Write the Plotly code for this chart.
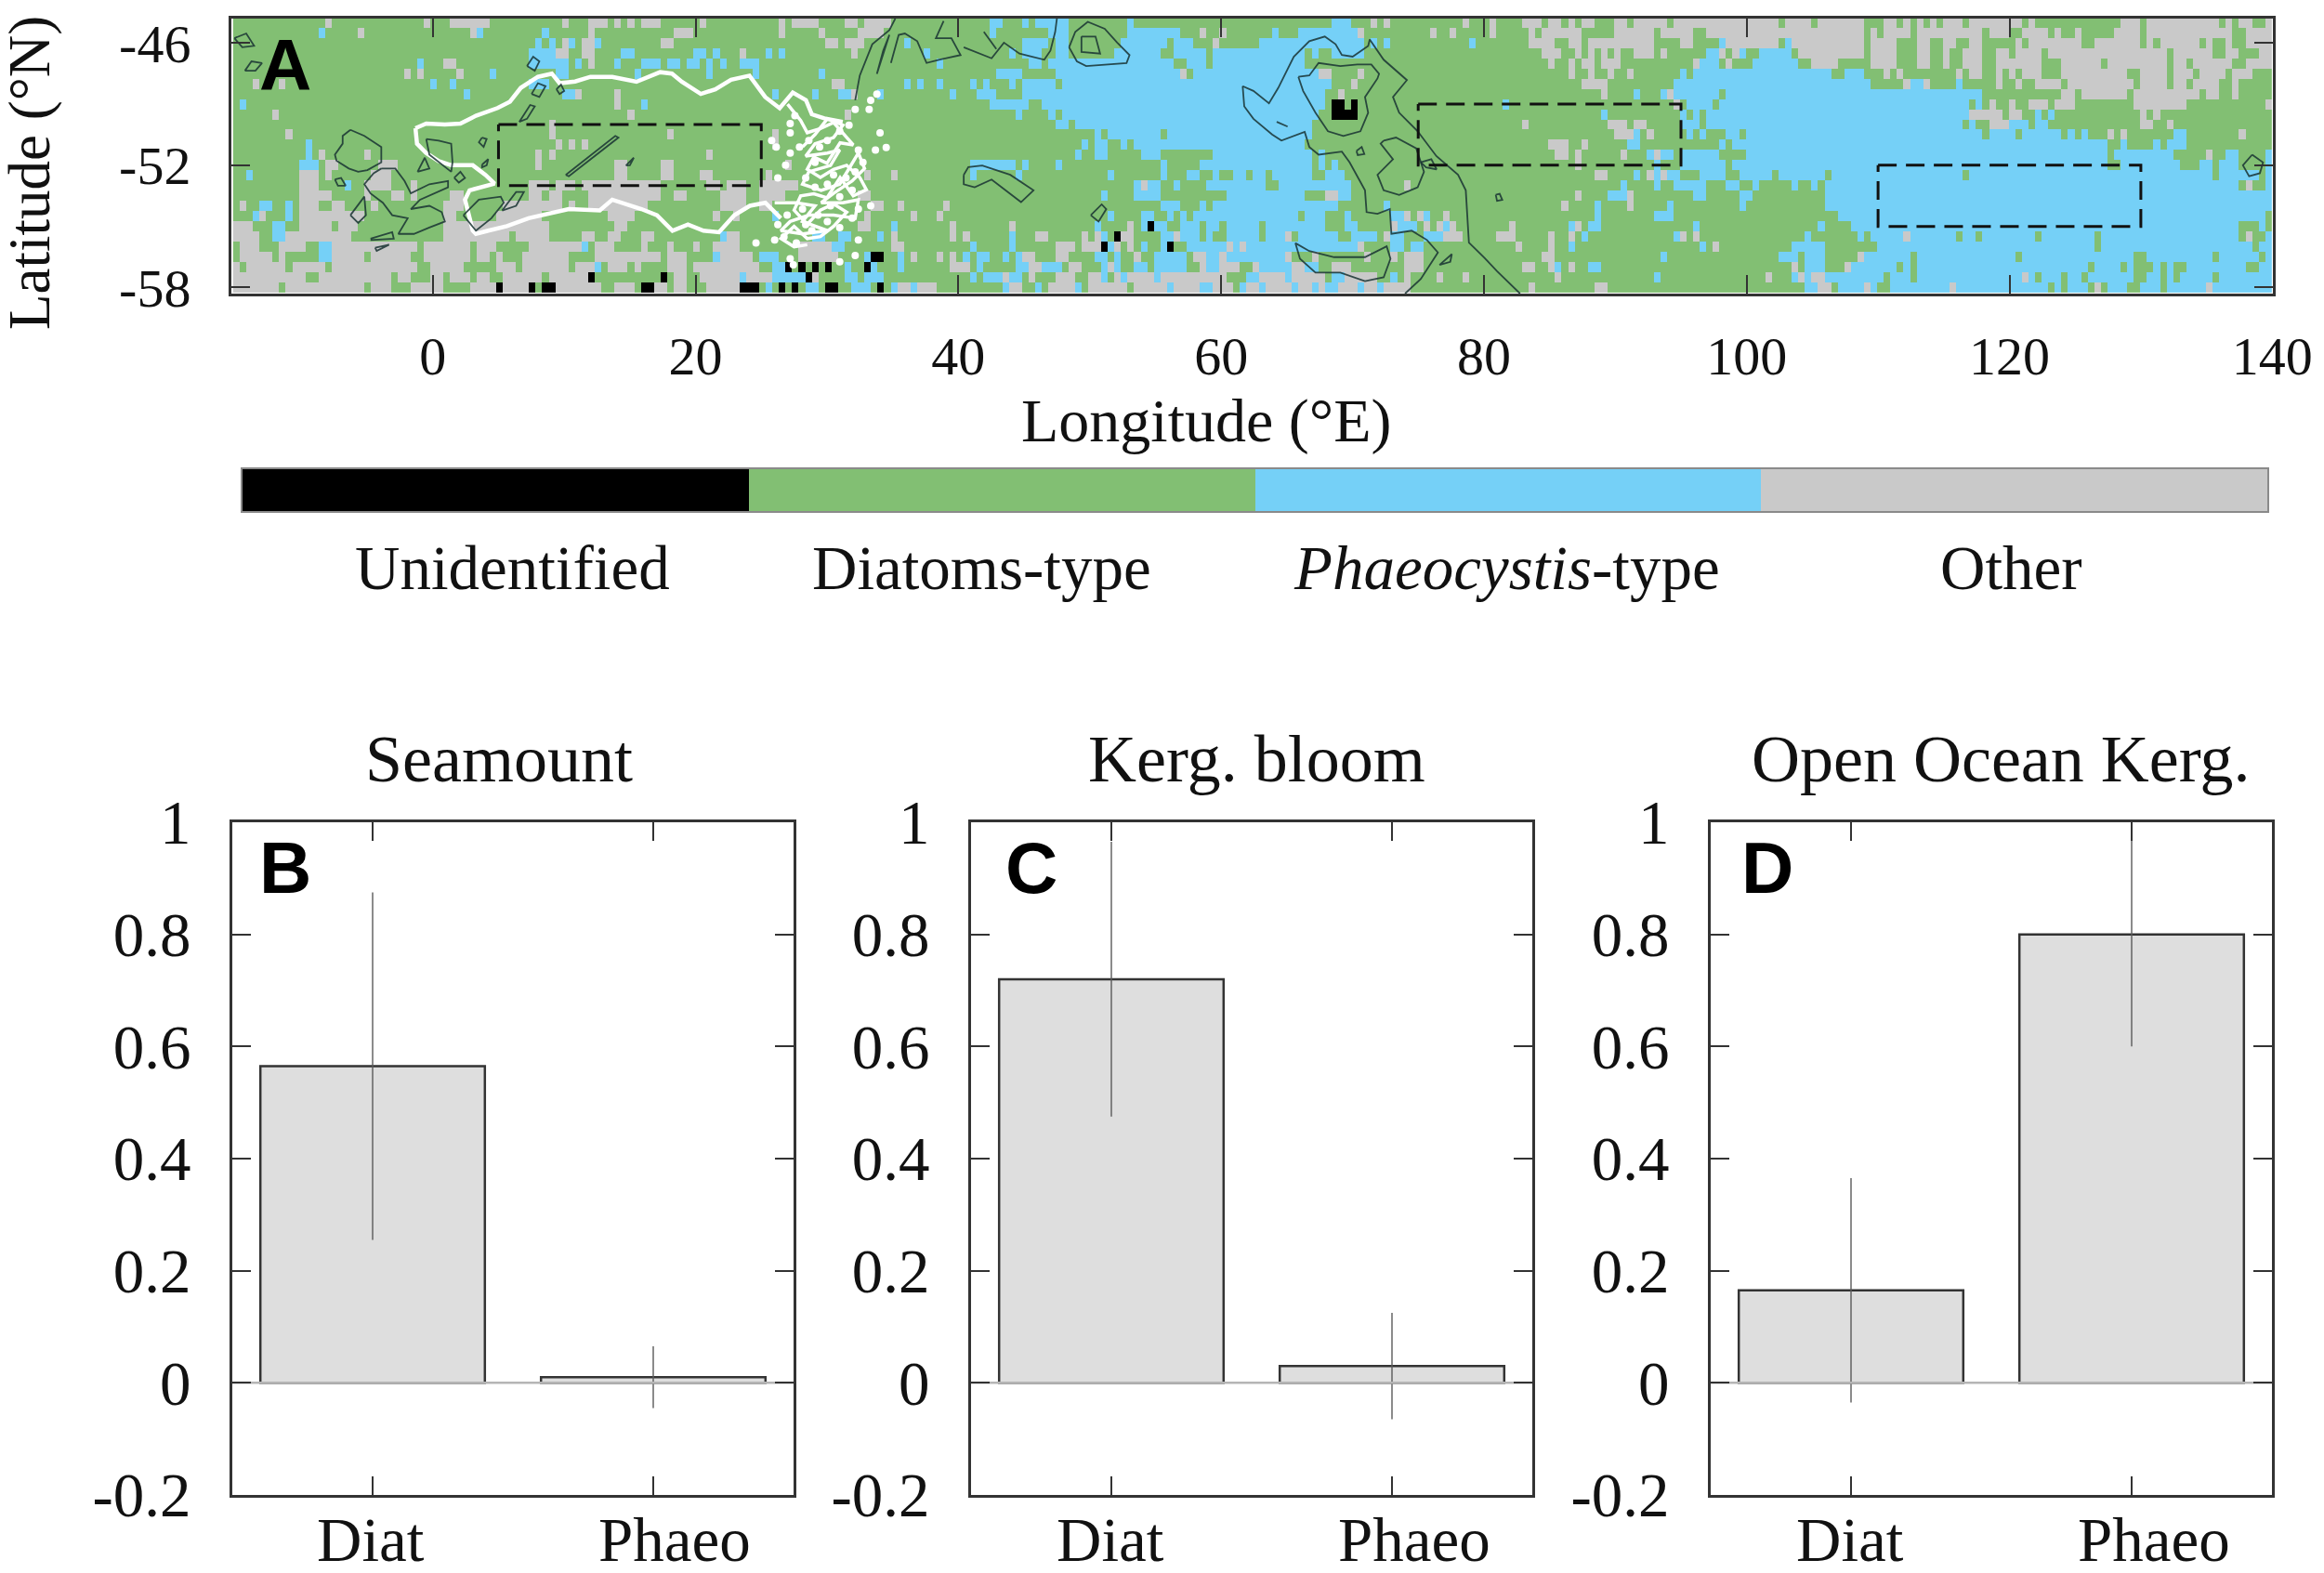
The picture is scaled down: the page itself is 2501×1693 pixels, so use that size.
import plotly.graph_objects as go

# the page body has an 8 px margin, so the figure is drawn 8 px in from the window corner
PAGE = 8
W, H = 2501 - PAGE, 1693 - PAGE

# map grid: 0.5 degree cells, each row is base Diatoms plus runs of other classes (col or first:last)
cell_rows = [
    "O14 O29 O33:38 O50 O54:56 O58 O60 O62:64 O71 O83 O85:88 O93:94 O96:99 P115:116 P120 P122:126 P136 P167:169 O173 O175 O187 O191 O196:198 O200:201 O203 O205:206 O210:211 O213:217 O219:234 O236:239 O241:247 O251:252 O254 O256 O258 O260:262 O264:271 O273 O287:289 O291:301 O303 O305:306 O309",
    "P13 O19 O36 P37 P47 O54 O67:69 O83 O89 O95:98 P115 P124:126 P136:143 O147 O150 P158 P162:170 O171 O182 O185 O191 O197 O199:204 O210:215 O217:221 O224:247 O249 O251:254 O256:265 O267:269 O272:275 O277 O280 O286:289 O291:303 O306:309",
    "P46 P48 O50 P51 O53:54 P55 O65:66 O90:91 O93:95 P102 P120:123 P125:126 P135:141 P143:145 O149 P156:171 P173 P175 P188 O197:200 O203:204 O206:215 O220:221 P226 O227:234 P236 O237:247 O249 O250:252 O256:257 O260:261 O264:265 O271 O273:280 O283:289 O291 O293:298 O300 O303 O306:309",
    "P45:48 O49:50 O53:54 P59:60 P70:71 P73 O77 P81 P83 O94 P105 P118 P120:122 P125:126 P134:140 P143:147 P149:162 P164 P167:171 O199:201 O204 O206 O208 O210 O213:215 O217 P224:225 O226 O228 P229 P232:236 O238:247 O249 O250:252 O256:257 O260 O263:265 O268:269 O271:274 O276:293 O295:300 O303:304 O308:309",
    "P28 O32:33 P45:50 P52 O54 P58 P62:64 P66:67 P69:70 P72 P74 P77:79 P107 P121:122 P124 P125:142 P145:147 P149:162 O200 O203 O205:206 O208:210 O222 P223:225 O227 P231:237 O240:243 O249 O250:252 O256:257 O260 O263:265 O268:274 O278:283 O285:293 O295:296 O298:303 O306:309",
    "O26 O28 O34 P39 P49:50 P61 P72 P79 P89 P116:119 P125:143 O144 P146:164 O165:166 O171 O203 O206 O209 O212 P220 P222:242 P245:247 O251 O253 O262 O264:265 O268 O270 O272:274 O278:287 O290:293 O295:297 O299:302 O304:306",
    "O3 O7 P30 P33 P45:47 O91:92 P102 P104 P107 P112 P114 P118 P120:124 P126:166 O170 O205:208 P219:248 O254 P255:256 O257 P262 O268 O271 O274:277 O279:288 O290:293 O295:296 O298:301 O304",
    "P35 P50:51 O52 O58 P82 P88 P92:93 O94 P98 P109 P113:115 P120:124 P125:165 O168 O208 P213 P217 O218 P219:225 P227:265 O278:279 O281:287 O289:298 O300:301 O304",
    "P1 O58 P62 P115:120 P123:124 P125:165 U167:168 U170 P193 O219 P221:224 P226:263 P265 O267 O270 O273:275 O277:279 O289:296 O309",
    "O6 O60 O93 P119 P124 P126:164 U167:170 P208 P220 P222 P224:263 O264:268 O270:271 P274 P276 O290 O292",
    "O48 P125:126 P128:163 O196 O209:211 O213:214 P220:222 P224:262 P264 O267:269 P270:272 P274:275 O290:291 O294",
    "O8 O48 O66 O82 P131 P133:140 P142:163 O210:212 P213 O215 P221 P223 P227:228 P230:265 P267:270 P272:277 P279 P281 O285 O287 P295:296 O305",
    "P11 O49 O51 O53 O82 P129 P131:132 P135 P137:162 O200:202 O205 P212:213 P226 P228:284 P287 P292 P294:296",
    "P11 O13 O20 O46 O48 O72 P128 P131:132 P138:140 P149:163 P165 O201:202 O204 O211 P215 O216 P217:218 P220:225 P230:284 P286:294 O300 P303:304 P309",
    "P10:12 O14:15 O22:24 O46 O58:59 O65:66 O84 P112:118 P120 P125 P141 P147:163 P165 P167 O204 P216 P220:226 P228:284 P287:295 P299:300 P302:304 P309",
    "P2 O10:12 O14 O21:23 O58:59 O65:66 O71:72 O81 O96 O100 P112 P119 P133 P141 P145:146 P149 P152:153 P155:156 P158:163 P166:168 O207:208 P213 O215 P216 O217 P218:219 P223:226 P229:233 P235:241 P243:262 P264:300 P302:307 P309",
    "O10:12 P17 O20:23 O27 O45:47 O49:51 O53:64 O72:73 O75:77 O80:85 P137 O138 P139:140 P143 P148:156 P159:165 P166:169 O178 P211 P216 P219:223 P227:228 P231 P237 P240 P242:304 O306 P309",
    "O10:14 O20 O24:25 O27 O33:34 O45:46 O48:49 O54:64 O67:68 O74:77 O80:83 O95:96 P132 P137:140 P151:162 O166:167 P168:169 O204 P209:211 O212 P222:223 P229:230 P242:309",
    "O1 P4:5 P8 O10:12 O15:16 O21 O32:34 O41:49 O51 O54:62 O74:77 O80:81 O97:98 O101 O108 P141:143 P147 P149:167 P175 O202 P207 O212 P218 P229 P242:309",
    "P3 O4 P8 O10:19 O32:33 O40:46 O57:60 O73 O76 P82 O96 O103 O107 P133 P138:139 P142 P144 P146:161 P163:165 P169 P176:177 O178 O180 P181 O184 P207 P216:218 P244:308",
    "O0:2 P6:7 O10:14 O16:18 O32:47 O58:59 O95:96 P100 O109 O118 P131 O136 P138 U139 P140:141 P144:146 P148:149 P151:155 P157:165 P169:170 O176 P177:179 O181 O183 P184 O185 O194 P203 O204 P206:207 P222 P241 P246:304 P308",
    "O0:3 P6:7 O8:17 O32:41 O43:47 O53:54 O57:58 O62:63 P74 O75:76 P88:89 P92:93 P98 O100 O109 O111 P118 O122:123 O129 O131 P132 U134 O135:136 P141:142 O143 P144:146 P148 P151:155 P157:159 O160 P162:167 P170:173 O175 P176:177 P181:183 O184:186 O192:194 O200 O203 P205 P219 O220 O222 P239 P247 P249:309 O254 D262 D265 D274 D283 D305 O306 D307:308",
    "O1:3 O7:10 P13:14 O15:27 O29:35 O37:39 O45:52 P53 O55:57 O62 O66 O70 O73:76 O86:90 P91:92 O100:101 P112 P118 O125:127 O129:131 U132 P133 O134 O136 P138 P141 U142 P145:150 O151 P152 O153 P154:170 O171 P176:177 P179:180 O195 O200 P203 P223 O225 P237:241 P250:309 D283 D307",
    "O1:5 O7 P13:14 O15:19 O21:26 O29:35 O37:38 O40 O44:50 O55:64 O66:68 P73 O74:78 P80:82 O86:91 P96 U97:98 P101 O103 O107 O109 P111 P113:114 P117 P119 O120:121 O125:126 P131:132 P134 O137 P140:144 O146:147 P148:149 O150 P151:159 O160 O164 O172 O176 O178:180 O199:200 P217 P235:237 P239:241 O247 P248:309 D255 D271 D289:290 D301 D308",
    "O0 O2:7 O9:13 O15:27 O30:34 O40:42 O44:50 O52:54 P55 O57:59 O61 O66:68 O70:79 P82:83 U84 U86 U88 U90 P93 U96 P97 P101 O109:111 P113 P119:120 O121:122 P123:125 O127:128 P132 O133 P134 P137:138 P140:144 O147 P148:149 O150:152 O155 P156:160 O161:162 P163:164 O167:169 O178:180 O196:197 O200 P201 O203 P206:207 O237 P239:241 O245 P246:309 D253 D255 D282 D287 D289:291 D293 D295:296 D306:307",
    "O0:10 O13:23 O25:26 O30:31 O33:35 O37:38 O41:46 O48:53 U54 U65 O67:68 O71:76 P77 O78:81 P82:86 U87 O88 P93:94 P96:98 P112 P114:116 O117 P118:119 O121 O125:127 O130:131 P132 O134 P135 O136:139 P140 O141:150 P154:155 O156:159 P160 O161:165 P167:168 O169:173 P176 O178 O183 O187 O201 P216 O233 P237 O238 P239 O240:241 P242:309 D251 D255 O272 D274 D278 D281 D289:290 D293 D295 D301",
    "O0:6 O8:19 O21:23 O27:31 O36:39 U40 O41:44 U45 U47:48 O49:55 O58:60 U62:63 O64:65 O67:68 O72:76 U77:79 P81 U83 U85 P87:88 U90:91 P94:96 U98 P100 O101:102 P103 O104:106 P117 O118:119 P122 O124:127 P128 O130:135 O137:141 P142 O143:146 P147:148 O149:151 P153 O154:155 P156 O157:160 P161 O162:163 P164 O165 P166:167 O168:170 P171 O172:173 P174 O175:178 O197 O207:208 P239:240 O241:242 P244:247 O248 P249:309 D250:251 O261 D276 D278 D282 O283 D284 D288:289 D293 O300",
]

class_code = {"U": 0, "D": 1, "P": 2, "O": 3}
class_colors = ["#000000", "#82bf73", "#75d0f7", "#c9c9c9"]
class_names = ["Unidentified", "Diatoms-type", "<i>Phaeocystis</i>-type", "Other"]

z = []
for row in cell_rows:
    cells = [1] * 310
    for tok in row.split():
        first, _, last = tok[1:].partition(":")
        for i in range(int(first), int(last or first) + 1):
            cells[i] = class_code[tok[0]]
    z.append(cells)

grid_lon = [-14.95 + 0.5006 * i for i in range(310)]
grid_lat = [-45 - 0.5 * r for r in range(27)]

# depth contours on the map, lon/lat
contours = [
    ([-6.27, -5.21, -3.92, -3.92, -4.98, -5.68, -6.39, -7.33, -7.45, -6.86, -6.86, -6.27], [-50.26, -50.56, -51.1, -51.86, -52.24, -52.32, -52.16, -51.78, -51.48, -50.94, -50.56, -50.26]),
    ([-3.92, -2.85, -2.15, -1.67, -0.26, 1.16, 1.16, -0.97, -1.67, -0.26, 0.68, 0.92, -0.26, -1.44, -2.62, -1.91, -3.09, -3.8, -4.74, -5.21, -4.5, -3.92], [-52.16, -52.16, -52.77, -53.38, -52.93, -52.77, -53.08, -53.69, -54.15, -53.99, -54.3, -54.76, -55.06, -55.37, -55.37, -54.6, -54.45, -53.84, -53.38, -52.93, -52.39, -52.16]),
    ([-0.5, 0.45, 1.4, 1.5, 1.4, 0.45, -0.26, -0.5], [-50.71, -50.79, -50.94, -51.86, -52.32, -51.86, -51.48, -50.71]),
    ([7.17, 7.64, 8.11, 7.76, 7.17], [-47.13, -46.67, -46.9, -47.36, -47.13]),
    ([7.52, 8, 8.58, 8.11, 7.52], [-48.5, -47.97, -48.12, -48.65, -48.5]),
    ([9.41, 9.76, 10, 9.65, 9.41], [-48.27, -48.04, -48.35, -48.5, -48.27]),
    ([6.58, 7.41, 7.76, 7.17, 6.58], [-49.87, -49.04, -49.11, -49.72, -49.87]),
    ([10.12, 13.89, 14.13, 10.35, 10.12], [-52.47, -50.56, -50.64, -52.54, -52.47]),
    ([5.28, 6.34, 6.93, 6.34, 5.28], [-54.22, -53.31, -53.31, -53.99, -54.22]),
    ([2.33, 3.51, 5.17, 5.4, 4.46, 3.28, 2.33], [-54.45, -53.69, -53.54, -53.84, -54.6, -55.21, -54.45]),
    ([-4.74, -3.09, -2.97, -4.74], [-55.6, -55.29, -55.6, -55.67]),
    ([-4.39, -3.33, -4.27, -4.39], [-56.05, -55.9, -56.2, -56.05]),
    ([-6.27, -5.21, -5.09, -5.68, -6.27], [-54.45, -53.54, -54.45, -54.83, -54.45]),
    ([-7.45, -6.98, -6.63, -7.22, -7.45], [-52.7, -52.62, -53, -53, -52.7]),
    ([-1.16, -0.61, -0.26, -1.16], [-52.32, -51.63, -52.16, -52.32]),
    ([1.63, 2.1, 2.45, 1.98, 1.63], [-52.62, -52.32, -52.62, -52.85, -52.62]),
    ([-14.3, -13.8, -13, -13.5, -14.3], [-47.36, -46.9, -46.98, -47.36, -47.36]),
    ([-15.1, -14.2, -13.6, -14.5, -15.1], [-45.76, -45.53, -46.14, -46.21, -45.76]),
    ([3.75, 4.1, 3.87, 3.51, 3.75], [-50.64, -50.71, -51.1, -50.87, -50.64]),
    ([3.75, 4.22, 4.1, 3.75, 3.75], [-51.97, -51.7, -52.0, -52.1, -51.97]),
    ([14.7, 15.3, 15.0, 14.7], [-52.01, -51.63, -52.0, -52.01]),
    ([32.15, 32.5, 33.45, 34.75, 35.2], [-48.81, -47.59, -46.06, -45.37, -44.8]),
    ([33.8, 34.28, 34.75, 33.8], [-47.51, -46.37, -45.6, -47.51]),
    ([34.87, 35.46, 35.93, 36.87, 37.58, 38.52, 40.17, 39.47, 38.29, 38.88], [-46.98, -45.6, -45.53, -45.91, -46.98, -46.82, -46.59, -45.76, -45.76, -44.92]),
    ([40.41, 42.53, 43.47, 44.65, 46.54, 47.01, 47.37, 47.5], [-46.21, -46.75, -45.98, -46.52, -46.82, -46.37, -45.45, -44.8]),
    ([41.94, 42.89], [-45.45, -46.29]),
    ([40.41, 40.76, 41.82, 43.95, 45.72, 44.77, 42.53, 41.24, 40.41, 40.41], [-52.47, -52.09, -52.01, -52.47, -53.23, -53.81, -52.7, -53.08, -52.93, -52.47]),
    ([48.43, 48.9, 49.85, 51.14, 52.09, 53.03, 52.8, 51.14, 49.73, 49.02, 48.43], [-46.21, -45.45, -44.96, -45.3, -45.98, -46.59, -46.98, -47.05, -47.13, -46.9, -46.21]),
    ([49.37, 50.44, 50.79, 49.37, 49.37], [-45.68, -45.68, -46.52, -46.44, -45.68]),
    ([50.08, 50.91, 51.26, 50.67, 50.08], [-54.45, -53.92, -54.15, -54.76, -54.45]),
    ([64.23, 65.06], [-49.87, -50.1]),
    ([61.64, 62.46, 63.64, 64.35, 65.53, 66.71, 67.89, 68.71, 69.19, 70.01, 71.19, 71.31, 72.37, 74.14, 73.08, 73.55, 74.96, 76.38, 78.03, 78.62, 78.86, 80.05, 81.0, 82.75], [-48.12, -48.35, -48.96, -48.2, -46.67, -45.91, -45.68, -46.06, -46.59, -46.67, -46.14, -45.83, -46.82, -47.82, -48.65, -49.42, -50.33, -51.55, -52.47, -53.23, -55.8, -56.55, -57.2, -58.3]),
    ([61.64, 61.76, 62.46, 63.88, 64.59, 66.36, 66.71, 67.42, 69.19, 69.78, 70.95, 71.07, 71.9, 72.84, 72.96, 74.5, 75.67, 76.5, 75.2, 74.0], [-48.12, -49.11, -49.72, -50.49, -50.79, -50.36, -51.1, -51.48, -51.33, -51.86, -53.23, -54.3, -54.38, -54.15, -55.37, -55.21, -55.67, -56.28, -57.58, -58.3]),
    ([65.88, 66.24, 67.18, 68.13, 69.3, 70.6, 71.19, 70.95, 71.9, 72.02, 71.43, 70.37, 69.07, 67.42, 66.71, 65.88], [-47.66, -48.35, -49.42, -50.33, -50.56, -50.33, -49.42, -48.65, -47.74, -47.51, -47.05, -47.05, -47.13, -46.98, -47.59, -47.66]),
    ([72.37, 73.31, 74.85, 75.44, 74.96, 73.55, 72.37, 71.9, 73.08, 72.14, 72.37], [-50.79, -50.64, -51.17, -52.32, -53.08, -53.46, -53.23, -52.47, -51.71, -50.94, -50.79]),
    ([65.65, 66.71, 68.6, 70.95, 72.6, 72.89, 72.37, 70.95, 69.07, 67.18, 66.0, 65.65], [-55.82, -56.21, -56.51, -56.51, -55.98, -56.59, -57.5, -57.69, -57.27, -57.27, -56.59, -55.82]),
    ([76.62, 77.56, 77.44, 76.62], [-56.89, -56.36, -56.74, -56.89]),
    ([70.3, 70.7, 70.9, 70.4, 70.3], [-51.3, -51.1, -51.45, -51.5, -51.3]),
    ([75.2, 76.0, 76.4, 75.6, 75.2], [-51.85, -51.7, -52.2, -52.1, -51.85]),
    ([80.9, 81.2, 81.4, 81.0, 80.9], [-53.45, -53.4, -53.7, -53.75, -53.45]),
    ([138.47, 139.3, 139.06, 138.24, 137.77, 138.47], [-51.48, -51.86, -52.39, -52.54, -52.0, -51.48]),
]

# white front lines and the tangle where they break up
front_upper_lon = [-1.32, -0.5, 0.92, 2.1, 3.28, 4.93, 5.87, 6.7, 8.0, 9.06, 9.65, 10.83, 12, 13.66, 15.5, 17.3, 18.2, 18.95, 20.4, 21.5, 22.7, 24.1, 25.3, 26.4, 27.4, 28.4, 28.85, 29.8, 31.2]
front_upper_lat = [-50.18, -49.95, -50.0, -49.95, -49.57, -49.19, -48.88, -48.2, -47.66, -47.5, -47.97, -47.89, -47.66, -47.66, -47.9, -47.43, -47.5, -47.9, -48.5, -48.27, -47.8, -47.6, -48.65, -49.2, -48.43, -48.8, -49.5, -49.7, -49.87]
front_lower_lon = [-1.32, -1.2, -0.5, 0.45, 1.4, 3.04, 4.0, 4.7, 2.8, 2.45, 3.04, 3.28, 4.22, 5.64, 7.29, 9.17, 10.35, 12.71, 13.66, 15.88, 17.06, 18.24, 19.42, 20.6, 21.78, 22.96, 24.13, 25.31, 26.49]
front_lower_lat = [-50.18, -50.94, -51.4, -51.8, -52.0, -52.0, -52.47, -52.9, -53.23, -53.69, -55.2, -55.37, -55.21, -54.99, -54.6, -54.3, -54.15, -54.22, -53.69, -54.15, -54.45, -55.21, -54.91, -55.21, -55.29, -54.45, -53.99, -53.84, -54.6]
tangle_lon = [28.14, 29.09, 30.03, 31.21, 30.5, 29.09, 28.38, 30.03, 30.97, 30.27, 28.62, 28.14, 29.56, 30.97, 32.39, 32.86, 31.92, 30.5, 29.56, 31.21, 32.39, 32.15, 30.5, 28.62, 27.2, 26.49, 28.14, 30.03, 28.14, 29.09, 27.67, 26.02]
tangle_lat = [-51.1, -50.49, -49.72, -50.03, -50.64, -50.94, -51.55, -51.4, -51.25, -52.01, -52.32, -52.93, -53.23, -52.93, -51.4, -52.16, -52.77, -53.38, -53.84, -53.84, -53.69, -54.6, -54.45, -54.45, -54.76, -55.21, -55.37, -55.21, -54.76, -53.99, -53.84, -53.84]
tangle2_lon = [27.0, 28.0, 28.5, 29.5, 30.5, 31.5, 32.0, 31.0, 30.0, 29.0, 28.5, 29.5, 30.5, 31.5, 32.5, 33.0, 32.0, 31.0, 30.0, 29.0, 28.0, 27.5, 28.5, 29.5, 30.5, 31.5, 30.5, 29.5, 28.5, 27.5, 26.5, 27.5, 28.5]
tangle2_lat = [-49.0, -49.8, -50.4, -50.2, -49.9, -50.6, -51.0, -50.9, -51.9, -51.6, -52.2, -52.6, -52.2, -52.0, -52.6, -53.2, -53.5, -52.6, -53.6, -53.4, -53.5, -54.2, -54.9, -54.2, -53.9, -54.3, -55.0, -55.5, -55.6, -55.0, -55.6, -56.0, -55.9]
# loose white dots around the tangle
dot_lon = [27.2, 27.56, 27.2, 25.79, 26.14, 27.2, 26.85, 26.26, 27.91, 28.62, 29.44, 30.03, 30.97, 31.68, 32.15, 33.33, 33.8, 33.21, 34.04, 33.69, 34.51, 32.39, 32.74, 32.15, 31.45, 30.5, 29.09, 28.38, 29.09, 30.03, 30.97, 31.92, 32.39, 31.92, 30.27, 29.32, 28.14, 26.97, 26.26, 26.73, 27.67, 28.85, 30.97, 32.39, 33.33, 26.02, 24.6, 28.38, 30.03, 27.2, 27.44, 30.97, 32.15]
dot_lat = [-49.95, -49.57, -50.41, -50.79, -51.1, -51.4, -52.0, -52.62, -51.1, -50.79, -51.1, -50.79, -50.33, -50.03, -49.26, -48.81, -48.5, -49.26, -50.41, -51.25, -51.13, -51.25, -51.86, -52.32, -52.62, -52.47, -51.86, -52.62, -53.08, -52.93, -53.54, -53.23, -54.15, -54.6, -53.99, -54.45, -54.15, -54.45, -54.91, -55.52, -55.82, -55.21, -55.06, -55.67, -53.99, -55.67, -55.82, -54.91, -54.76, -56.59, -56.89, -56.74, -56.43]

# study boxes: lon_min, lon_max, lat_min, lat_max
study_boxes = [(5, 25, -53, -50), (75, 95, -52, -49), (110, 130, -55, -52)]

panel_titles = ["Seamount", "Kerg. bloom", "Open Ocean Kerg."]
panel_letters = ["B", "C", "D"]
bar_labels = ["Diat", "Phaeo"]
bar_values = [[0.565, 0.01], [0.72, 0.03], [0.165, 0.80]]
bar_errors = [[0.31, 0.055], [0.245, 0.095], [0.20, 0.20]]
y_ticks = [-0.2, 0, 0.2, 0.4, 0.6, 0.8, 1]
y_tick_text = ["-0.2", "0", "0.2", "0.4", "0.6", "0.8", "1"]
lon_ticks = [0, 20, 40, 60, 80, 100, 120, 140]
lat_ticks = [-58, -52, -46]
lat_tick_text = ["-58", "-52", "-46"]

SERIF = "Liberation Serif"
INK = "#333333"


def dom_x(a, b):
    return [(a - PAGE) / W, (b - PAGE) / W]


def dom_y(top, bottom):
    return [1 - (bottom - PAGE) / H, 1 - (top - PAGE) / H]


def label(text, x, y, font, **kw):
    return dict(text=text, x=(x - PAGE) / W, y=1 - (y - PAGE) / H, xref="paper", yref="paper", showarrow=False,
                xanchor="center", yanchor="middle", font=font, **kw)


fig = go.Figure()

# panel A
fig.add_trace(go.Heatmap(
    z=z, x=grid_lon, y=grid_lat, zmin=0, zmax=3, showscale=False,
    colorscale=[[0, class_colors[0]], [0.25, class_colors[0]], [0.25, class_colors[1]], [0.5, class_colors[1]],
                [0.5, class_colors[2]], [0.75, class_colors[2]], [0.75, class_colors[3]], [1, class_colors[3]]],
    xaxis="x", yaxis="y",
))
fig.add_trace(go.Scatter(x=tangle_lon, y=tangle_lat, mode="lines", line=dict(color="#ffffff", width=3.5),
                         xaxis="x", yaxis="y", showlegend=False))
fig.add_trace(go.Scatter(x=tangle2_lon, y=tangle2_lat, mode="lines", line=dict(color="#ffffff", width=3.5),
                         xaxis="x", yaxis="y", showlegend=False))
fig.add_trace(go.Scatter(x=dot_lon, y=dot_lat, mode="markers", marker=dict(color="#ffffff", size=8),
                         xaxis="x", yaxis="y", showlegend=False))
fig.add_trace(go.Scatter(x=front_upper_lon, y=front_upper_lat, mode="lines", line=dict(color="#ffffff", width=4.5),
                         xaxis="x", yaxis="y", showlegend=False))
fig.add_trace(go.Scatter(x=front_lower_lon, y=front_lower_lat, mode="lines", line=dict(color="#ffffff", width=4.5),
                         xaxis="x", yaxis="y", showlegend=False))
for lon, lat in contours:
    fig.add_trace(go.Scatter(x=lon, y=lat, mode="lines", line=dict(color="rgba(25,50,50,0.85)", width=1.8),
                             xaxis="x", yaxis="y", showlegend=False))
for x0, x1, y0, y1 in study_boxes:
    fig.add_trace(go.Scatter(x=[x0, x1, x1, x0, x0], y=[y1, y1, y0, y0, y1], mode="lines",
                             line=dict(color="#111111", width=3, dash="20px,10px"),
                             xaxis="x", yaxis="y", showlegend=False))

fig.update_layout(
    xaxis=dict(domain=dom_x(249, 2446), range=[-15.33, 140.05], tickvals=lon_ticks, ticks="inside", ticklen=20,
               tickwidth=2, tickcolor=INK, showline=True, linecolor=INK, linewidth=3, mirror="ticks", automargin=False,
               showgrid=False, zeroline=False, ticklabelstandoff=14, tickfont=dict(family=SERIF, size=58, color="#111"),
               anchor="y"),
    yaxis=dict(domain=dom_y(20, 316), range=[-58.3, -44.8], tickvals=lat_ticks, ticktext=lat_tick_text, ticks="inside",
               ticklen=20, tickwidth=2, tickcolor=INK, showline=True, linecolor=INK, linewidth=3, mirror="ticks",
               automargin=False, showgrid=False, zeroline=False, ticklabelstandoff=29,
               tickfont=dict(family=SERIF, size=58, color="#111"), anchor="x"),
)

# class key under the map
fig.add_trace(go.Heatmap(
    z=[[0, 1, 2, 3]], x=class_names, y=[""], zmin=0, zmax=3, showscale=False,
    colorscale=[[0, class_colors[0]], [0.25, class_colors[0]], [0.25, class_colors[1]], [0.5, class_colors[1]],
                [0.5, class_colors[2]], [0.75, class_colors[2]], [0.75, class_colors[3]], [1, class_colors[3]]],
    xaxis="x2", yaxis="y2",
))
fig.update_layout(
    xaxis2=dict(domain=dom_x(261, 2440), showticklabels=False, ticks="", showline=True, mirror=True,
                linecolor="#8a8a8a", linewidth=2, automargin=False, anchor="y2"),
    yaxis2=dict(domain=dom_y(505, 550), showticklabels=False, ticks="", showline=True, mirror=True,
                linecolor="#8a8a8a", linewidth=2, automargin=False, anchor="x2"),
)

serif_67 = dict(family=SERIF, size=67, color="#111")
letter_font = dict(family="Liberation Sans", size=78, color="#000", weight="bold")

annotations = []
for name, cx in zip(class_names, [551, 1056, 1622, 2164]):
    annotations.append(label(name, cx, 611, serif_67))
annotations.append(label("Longitude (°E)", 1298, 453, dict(family=SERIF, size=66, color="#111")))
annotations.append(label("Latitude (°N)", 32, 186, dict(family=SERIF, size=63, color="#111"), textangle=-90))
annotations.append(label("A", 307, 70, letter_font))

# panels B, C, D
panel_left = [250, 1045, 1841]
title_x = [537, 1352, 2153]
letter_x = [307, 1110, 1902]
bar_label_x = [[399, 726], [1195, 1522], [1991, 2318]]
for k in range(3):
    xa = "x%d" % (k + 3)
    ya = "y%d" % (k + 3)
    # zero line sits under the bars
    fig.add_trace(go.Scatter(x=[0.5, 2.5], y=[0, 0], mode="lines", line=dict(color="#b5b5b5", width=2.5),
                             xaxis=xa, yaxis=ya, showlegend=False))
    fig.add_trace(go.Bar(
        x=[1, 2], y=bar_values[k], width=0.8, marker=dict(color="#dedede", line=dict(color=INK, width=2.5)),
        error_y=dict(type="data", array=bar_errors[k], color="rgba(90,90,90,0.7)", thickness=2, width=0),
        xaxis=xa, yaxis=ya, showlegend=False,
    ))
    fig.update_layout({
        "xaxis%d" % (k + 3): dict(domain=dom_x(panel_left[k], panel_left[k] + 604), range=[0.5, 2.5], tickvals=[1, 2],
                                  showticklabels=False, ticks="inside", ticklen=20, tickwidth=2, tickcolor=INK,
                                  showline=True, linecolor=INK, linewidth=3, mirror="ticks", showgrid=False,
                                  automargin=False, zeroline=False, anchor=ya),
        "yaxis%d" % (k + 3): dict(domain=dom_y(885, 1609), range=[-0.2, 1], tickvals=y_ticks, ticktext=y_tick_text,
                                  ticks="inside", ticklen=20, tickwidth=2, tickcolor=INK, showline=True, linecolor=INK,
                                  linewidth=3, mirror="ticks", showgrid=False, automargin=False, zeroline=False,
                                  ticklabelstandoff=28, tickfont=serif_67, anchor=xa),
    })
    annotations.append(label(panel_titles[k], title_x[k], 817, dict(family=SERIF, size=72, color="#111")))
    annotations.append(label(panel_letters[k], letter_x[k], 934, letter_font))
    for name, cx in zip(bar_labels, bar_label_x[k]):
        annotations.append(label(name, cx, 1657, serif_67))

fig.update_layout(
    width=W, height=H, margin=dict(l=0, r=0, t=0, b=0), paper_bgcolor="white", plot_bgcolor="white",
    showlegend=False, annotations=annotations, barmode="overlay",
)

fig.write_html("out.html")
